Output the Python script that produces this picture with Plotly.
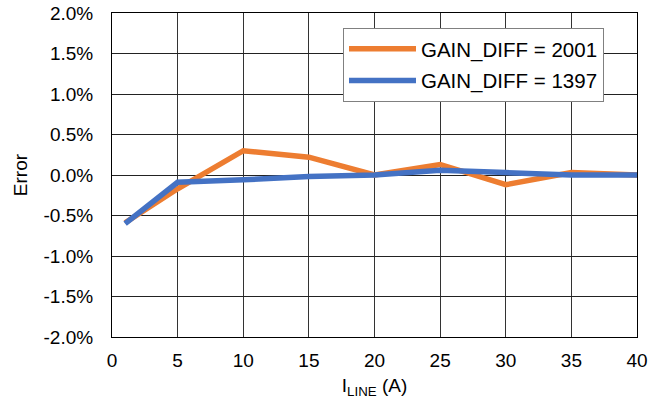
import plotly.graph_objects as go

x_vals = [1, 5, 10, 15, 20, 25, 30, 35, 40]
gain_2001 = [-0.0059, -0.0017, 0.0030, 0.0022, 0.0000, 0.0013, -0.0012, 0.0003, 0.0000]
gain_1397 = [-0.0060, -0.0009, -0.0006, -0.0002, 0.0000, 0.0006, 0.0003, 0.0000, 0.0000]
x_ticks = [0, 5, 10, 15, 20, 25, 30, 35, 40]
y_ticks = [-0.02, -0.015, -0.01, -0.005, 0.0, 0.005, 0.01, 0.015, 0.02]
y_tick_labels = ["-2.0%", "-1.5%", "-1.0%", "-0.5%", "0.0%", "0.5%", "1.0%", "1.5%", "2.0%"]

font = "Liberation Sans"
fsize = 19

fig = go.Figure()
fig.add_trace(go.Scatter(x=x_vals, y=gain_2001, mode="lines", name="GAIN_DIFF = 2001",
                         legendgroup="a", line=dict(color="#ED7D31", width=5.5)))
fig.add_trace(go.Scatter(x=x_vals, y=gain_1397, mode="lines", name="GAIN_DIFF = 1397",
                         legendgroup="b", line=dict(color="#4472C4", width=5.5)))

fig.update_layout(
    width=663, height=412,
    margin=dict(l=112, r=26, t=13, b=75),
    paper_bgcolor="white", plot_bgcolor="white",
    font=dict(family=font, size=fsize, color="black"),
    legend=dict(x=0.44, y=0.954, xanchor="left", yanchor="top",
                bordercolor="#808080", borderwidth=1, bgcolor="white",
                itemwidth=67, entrywidth=214, tracegroupgap=2,
                font=dict(family=font, size=20.5, color="black")),
    xaxis=dict(range=[0, 40], tickvals=x_ticks, showgrid=True, gridcolor="#333",
               gridwidth=1, showline=True, linecolor="black", mirror=True,
               zeroline=False, ticks="", automargin=False, ticklabelstandoff=6,
               tickfont=dict(family=font, size=fsize, color="black"),
               title=dict(text="I<sub>LINE</sub> (A)", standoff=8,
                          font=dict(family=font, size=fsize, color="black"))),
    yaxis=dict(range=[-0.02, 0.02], tickvals=y_ticks, ticktext=y_tick_labels,
               showgrid=True, gridcolor="#222", gridwidth=1, showline=True,
               linecolor="black", mirror=True, zeroline=False, ticks="",
               automargin=False, ticklabelstandoff=14,
               tickfont=dict(family=font, size=fsize, color="black"),
               title=dict(text="Error", standoff=10,
                          font=dict(family=font, size=fsize, color="black"))),
)

fig.write_html("out.html", config={"displayModeBar": False},
               post_script="document.body.style.margin='0';")
